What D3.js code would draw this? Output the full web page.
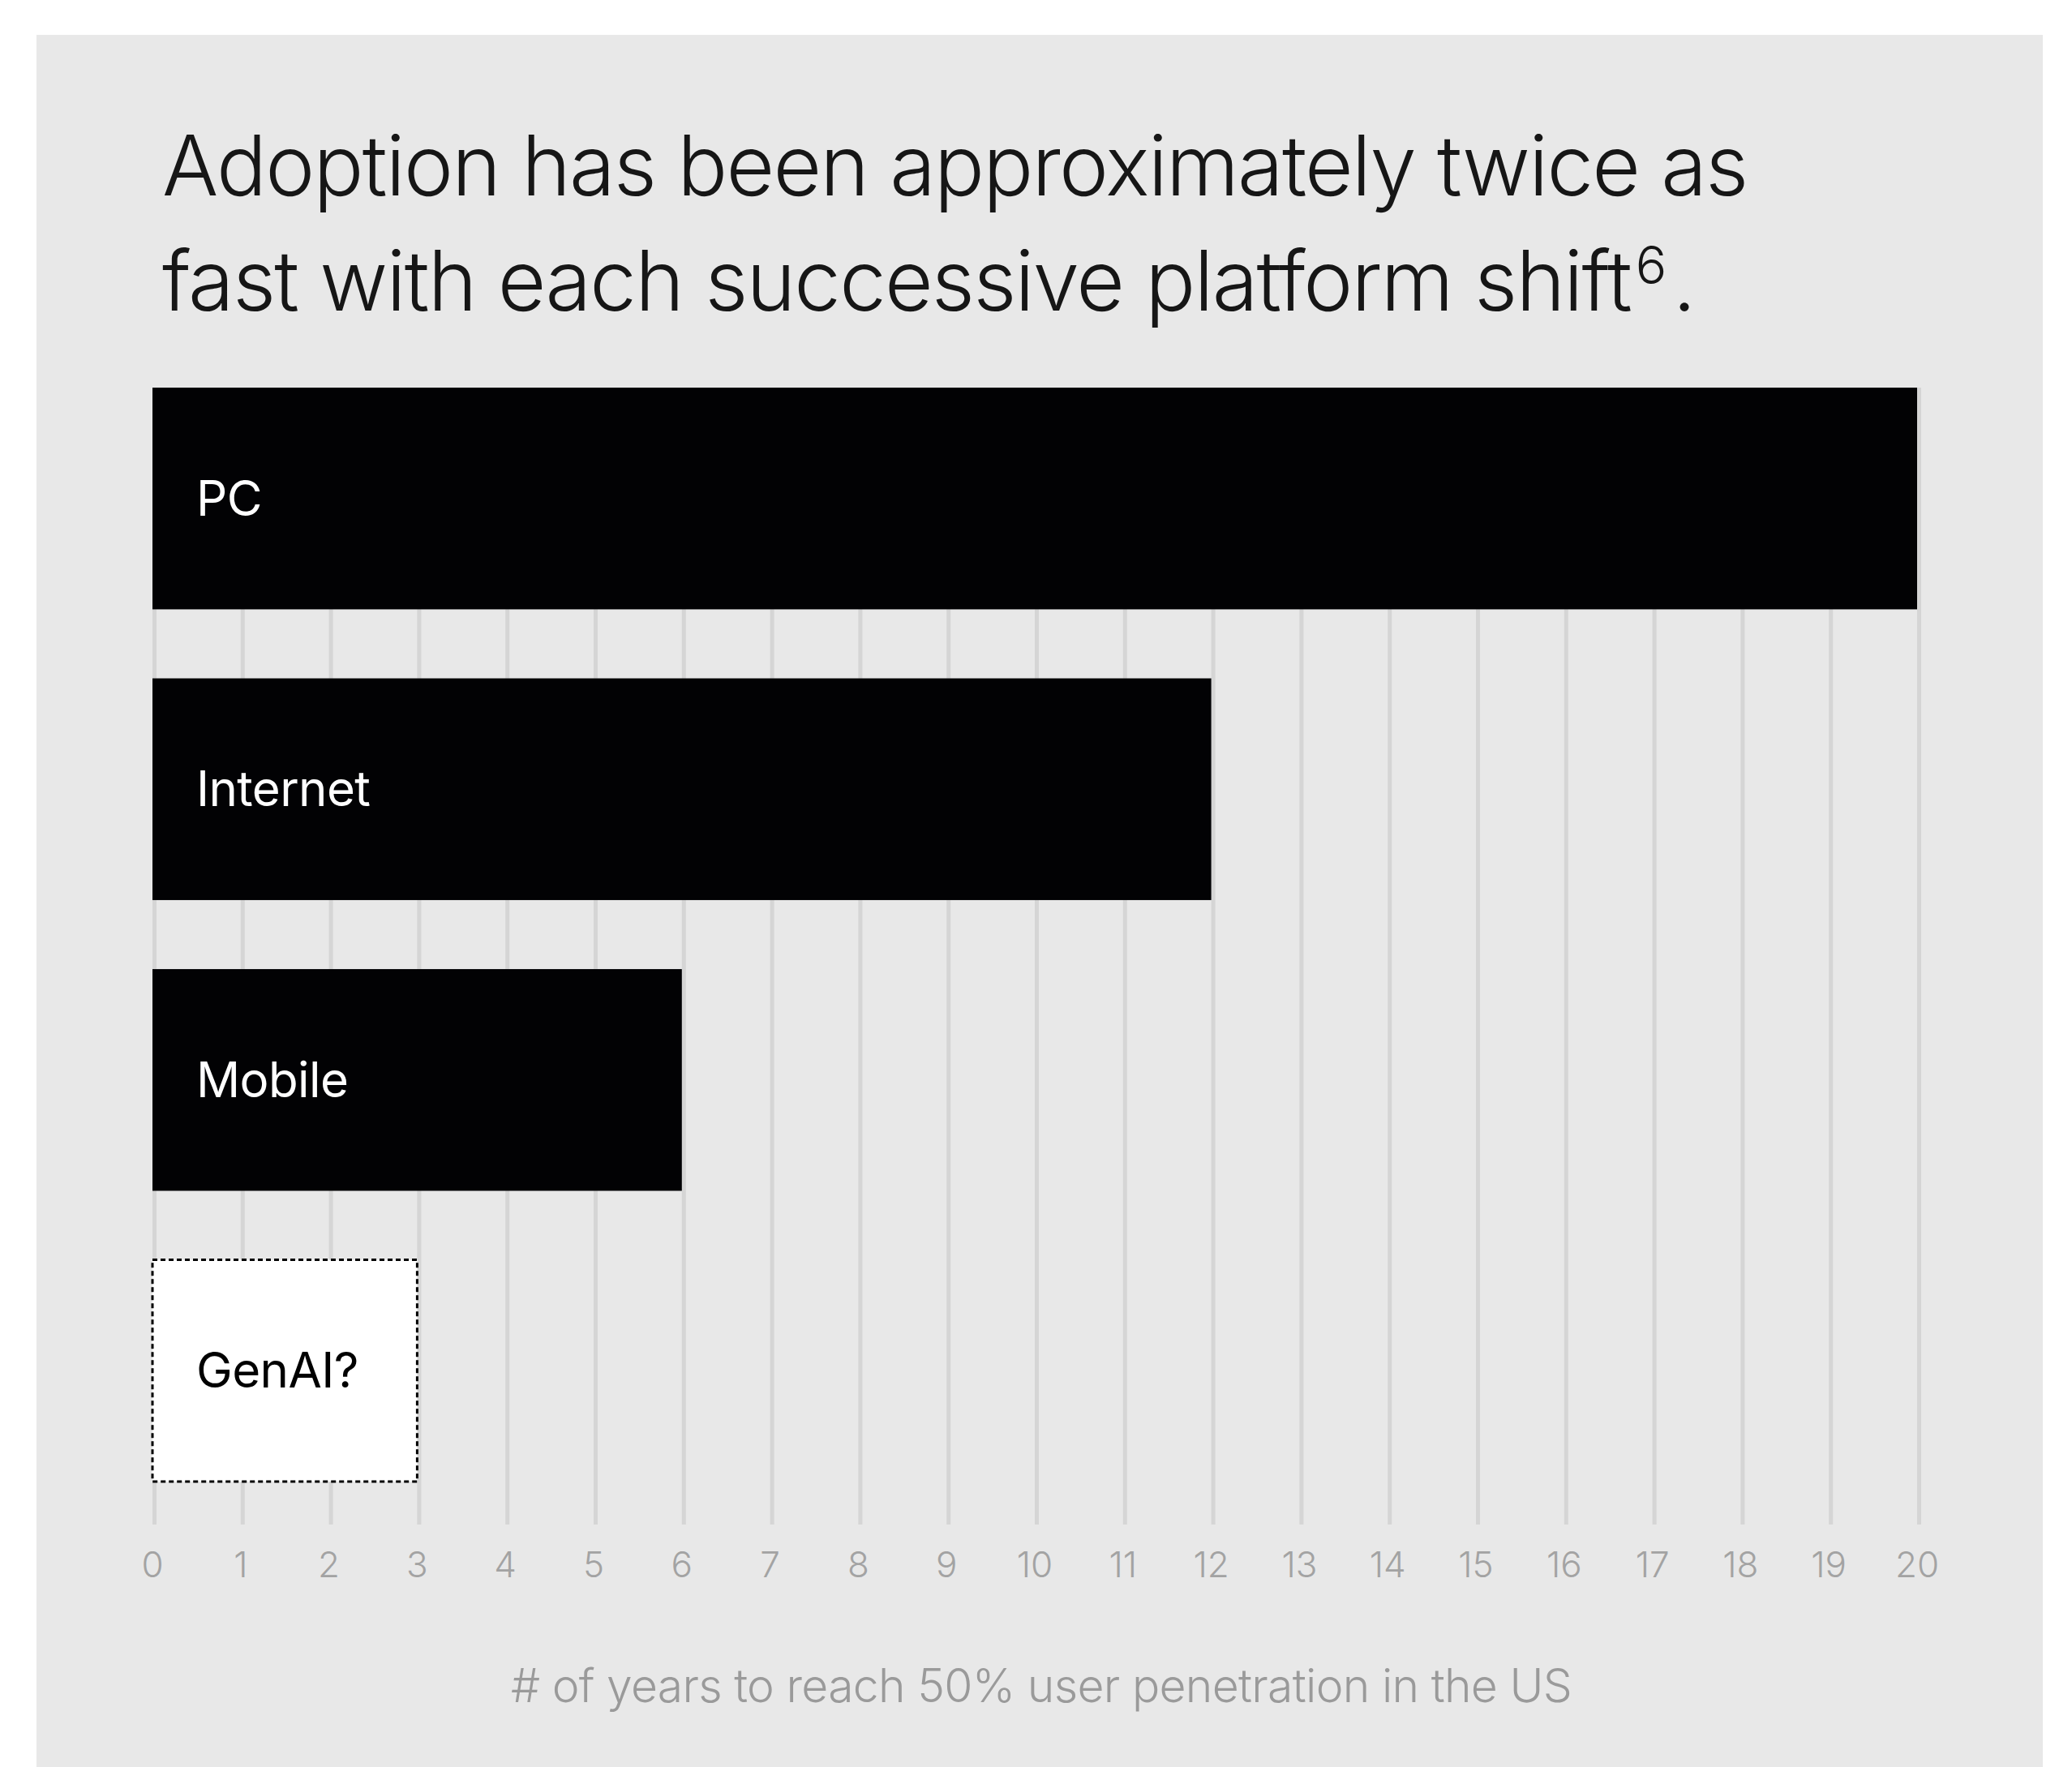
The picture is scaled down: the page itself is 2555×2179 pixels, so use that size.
<!DOCTYPE html>
<html>
<head>
<meta charset="utf-8">
<script src="https://cdn.jsdelivr.net/npm/d3@7"></script>
<style>
  html, body { margin: 0; padding: 0; background: #fff; }
  svg { display: block; }
</style>
</head>
<body>
<div id="chart"></div>
<script>
const platforms = ['PC', 'Internet', 'Mobile', 'GenAI?'];
const yearsToHalf = [20, 12, 6, 3];
const titleLines = ['Adoption has been approximately twice as', 'fast with each successive platform shift'];
const footnote = '6';
const axisTitle = '# of years to reach 50% user penetration in the US';

const width = 2555, height = 2179;
const font = 'Inter, Roboto, "Liberation Sans", sans-serif';

const svg = d3.select('#chart').append('svg')
    .attr('width', width)
    .attr('height', height);

// grey panel
svg.append('rect')
    .attr('x', 45).attr('y', 43)
    .attr('width', 2474).attr('height', height - 43)
    .attr('fill', '#e8e8e8');

// title
const title = svg.append('text')
    .attr('font-family', font)
    .attr('font-weight', 300)
    .attr('font-size', 103)
    .attr('letter-spacing', -1.8)
    .attr('fill', '#161616');
title.append('tspan').attr('x', 200).attr('y', 241).text(titleLines[0]);
title.append('tspan').attr('x', 200).attr('y', 383).text(titleLines[1]);
title.append('tspan').attr('dx', 6).attr('dy', -33).attr('font-size', 64).text(footnote);
title.append('tspan').attr('dx', 9).attr('dy', 33).text('.');

const x = d3.scaleLinear().domain([0, 20]).range([188, 2364]);
const y = d3.scaleBand().domain(platforms).range([478, 1827]).paddingInner(0.2374).paddingOuter(0);

// gridlines
svg.append('g')
    .selectAll('rect')
    .data(x.ticks(20))
    .enter().append('rect')
    .attr('x', d => x(d))
    .attr('y', 478)
    .attr('width', 5)
    .attr('height', 1880 - 478)
    .attr('fill', '#d5d5d5');

// tick labels
svg.append('g')
    .selectAll('text')
    .data(x.ticks(20))
    .enter().append('text')
    .attr('x', d => x(d))
    .attr('y', 1945)
    .attr('text-anchor', 'middle')
    .attr('font-family', font)
    .attr('font-weight', 300)
    .attr('font-size', 44)
    .attr('fill', '#a3a3a3')
    .text(d => d);

// bars
const bars = svg.append('g')
    .selectAll('g')
    .data(platforms.map((p, i) => ({ name: p, value: yearsToHalf[i], guess: p === 'GenAI?' })))
    .enter().append('g');

bars.append('rect')
    .attr('x', x(0))
    .attr('y', d => y(d.name))
    .attr('width', d => x(d.value) - x(0))
    .attr('height', y.bandwidth())
    .attr('fill', d => d.guess ? '#ffffff' : '#020204')
    .attr('stroke', d => d.guess ? '#000' : 'none')
    .attr('stroke-width', 3)
    .attr('stroke-dasharray', d => d.guess ? '6 4' : null);

bars.append('text')
    .attr('x', x(0) + 54)
    .attr('y', d => y(d.name) + y.bandwidth() / 2 + 21)
    .attr('font-family', font)
    .attr('font-size', 60)
    .attr('letter-spacing', -0.6)
    .attr('fill', d => d.guess ? '#000' : '#fff')
    .text(d => d.name);

// axis title
svg.append('text')
    .attr('x', (x(0) + x(20)) / 2 + 8)
    .attr('y', 2099)
    .attr('text-anchor', 'middle')
    .attr('font-family', font)
    .attr('font-weight', 300)
    .attr('font-size', 57)
    .attr('letter-spacing', -0.7)
    .attr('fill', '#9a9a9a')
    .text(axisTitle);
</script>
</body>
</html>
